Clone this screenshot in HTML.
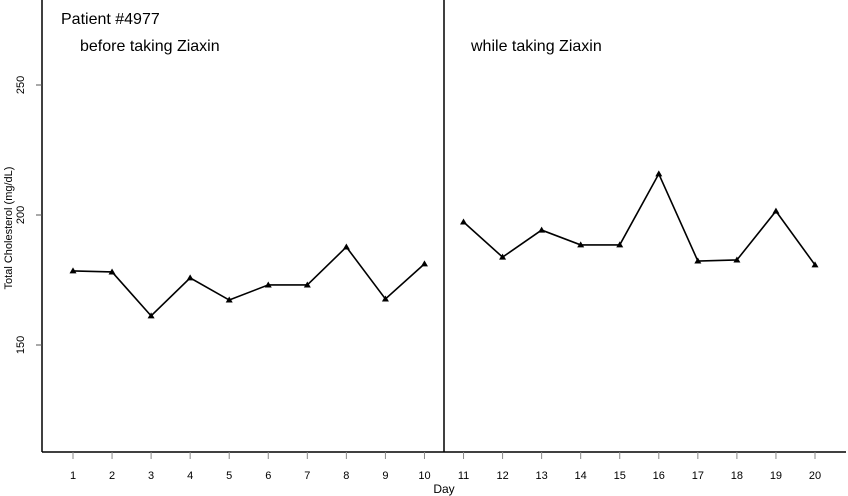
<!DOCTYPE html>
<html><head><meta charset="utf-8"><style>
html,body{margin:0;padding:0;background:#fff;}
svg{display:block;font-family:"Liberation Sans",Arial,sans-serif;}
</style></head><body>
<svg id="chart" width="848" height="496" viewBox="0 0 848 496" xmlns="http://www.w3.org/2000/svg">
<g id="axes"></g><g id="marks"></g>
</svg>
<script>
const days = [1,2,3,4,5,6,7,8,9,10,11,12,13,14,15,16,17,18,19,20];
const cholesterol = [178.5,178.1,161.2,175.8,167.3,173.1,173.1,187.7,167.7,181.2,197.3,183.8,194.2,188.5,188.5,215.8,182.3,182.7,201.5,180.8];
const yTicks = [150,200,250];
const phaseLabels = ["before taking Ziaxin","while taking Ziaxin"];

const NS="http://www.w3.org/2000/svg";
function x(d){return 73+(d-1)*(815-73)/19;}
function y(v){return 215-(v-200)*2.6;}
function mk(tag,attrs,parent,text){const e=document.createElementNS(NS,tag);for(const k in attrs)e.setAttribute(k,attrs[k]);if(text!==undefined)e.textContent=text;parent.appendChild(e);return e;}
const ax=document.getElementById('axes'), mg=document.getElementById('marks');

let e;
e=mk('line',{x1:42,y1:0,x2:42,y2:452,stroke:'#000','stroke-width':1.5},ax);


e=mk('line',{x1:42,y1:452,x2:846,y2:452,stroke:'#000','stroke-width':1.5},ax);


e=mk('line',{x1:x(10.5),y1:0,x2:x(10.5),y2:452,stroke:'#000','stroke-width':1.5},ax);



yTicks.forEach(t=>{
  e=mk('line',{x1:36,y1:y(t),x2:42,y2:y(t),stroke:'#555'},ax);
  
  
  e=mk('text',{x:0,y:0,transform:`translate(24,${y(t)}) rotate(-90)`,'text-anchor':'middle','font-size':11,fill:'#000'},ax,t);
  
  
});
days.forEach(d=>{
  e=mk('line',{x1:x(d),y1:452,x2:x(d),y2:459,stroke:'#888'},ax);
  
  
  e=mk('text',{x:x(d),y:479,'text-anchor':'middle','font-size':11,fill:'#000'},ax,d);
  
  
});
e=mk('text',{x:444,y:493,'text-anchor':'middle','font-size':12},ax,'Day');


e=mk('text',{x:0,y:0,transform:'translate(12,228) rotate(-90)','text-anchor':'middle','font-size':11},ax,'Total Cholesterol (mg/dL)');


e=mk('text',{x:61,y:24,'font-size':16},ax,'Patient #4977');


e=mk('text',{x:80,y:51,'font-size':16},ax,phaseLabels[0]);


e=mk('text',{x:471,y:51,'font-size':16},ax,phaseLabels[1]);



function series(start,end,name){
  const pts=[];
  for(let i=start;i<end;i++)pts.push(x(days[i])+','+y(cholesterol[i]));
  e=mk('polyline',{points:pts.join(' '),fill:'none',stroke:'#000','stroke-width':1.6},mg);
  
  
  for(let i=start;i<end;i++){
    const cx=x(days[i]),cy=y(cholesterol[i]);
    e=mk('polygon',{points:`${cx},${cy-3.5} ${cx-3.5},${cy+2.5} ${cx+3.5},${cy+2.5}`,fill:'#000'},mg);
    
    
  }
}
series(0,10,'line-before');
series(10,20,'line-while');
</script>
</body></html>
